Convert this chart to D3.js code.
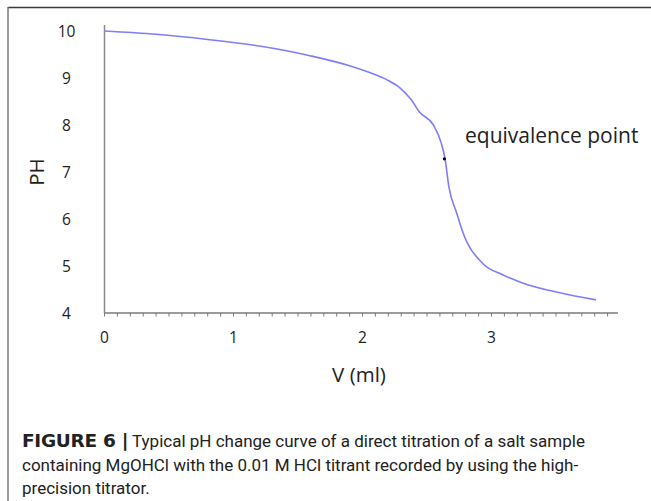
<!DOCTYPE html>
<html>
<head>
<meta charset="utf-8">
<script src="https://cdn.jsdelivr.net/npm/d3@7/dist/d3.min.js"></script>
<style>
  html, body { margin: 0; padding: 0; background: #fff; }
  svg { display: block; }
</style>
</head>
<body>
<svg id="fig" width="651" height="501"></svg>
<script>
// Titration curve: titrant volume (ml) vs measured pH
const volume = [0, 0.4, 0.8, 1.2, 1.6, 1.9, 2.05, 2.19, 2.29, 2.38, 2.44, 2.55, 2.61, 2.64, 2.67, 2.73, 2.78, 2.93, 3.09, 3.24, 3.53, 3.81];
const pH     = [10.0, 9.93, 9.82, 9.68, 9.47, 9.26, 9.12, 8.96, 8.79, 8.53, 8.28, 8.0, 7.62, 7.28, 6.68, 6.13, 5.70, 5.06, 4.81, 4.64, 4.43, 4.28];
const equivalencePoint = { v: 2.635, ph: 7.28 };
const xTicks = [0, 1, 2, 3];
const yTicks = [4, 5, 6, 7, 8, 9, 10];
const captionLines = [
  ["FIGURE 6 |", "Typical pH change curve of a direct titration of a salt sample"],
  ["", "containing MgOHCl with the 0.01 M HCl titrant recorded by using the high-"],
  ["", "precision titrator."]
];

const svg = d3.select("#fig");

// figure frame (top and left rules)
svg.append("line").attr("x1", 8).attr("x2", 651).attr("y1", 7.5).attr("y2", 7.5)
  .attr("stroke", "#3a3a3a").attr("stroke-width", 1.5);
svg.append("line").attr("x1", 8).attr("x2", 8).attr("y1", 7).attr("y2", 501)
  .attr("stroke", "#777").attr("stroke-width", 1.5);

const x = d3.scaleLinear().domain([0, 3]).range([104.5, 491.5]);
const y = d3.scaleLinear().domain([4, 10]).range([313, 31]);

const font = "'Open Sans', 'DejaVu Sans', sans-serif";

// y axis line
svg.append("line").attr("x1", x(0)).attr("x2", x(0)).attr("y1", y(10.13)).attr("y2", y(4))
  .attr("stroke", "#8a8a8a").attr("stroke-width", 1.5);

// x axis with minor ticks every 0.1 ml
svg.append("line").attr("x1", x(0)).attr("x2", x(3.98)).attr("y1", y(4)).attr("y2", y(4))
  .attr("stroke", "#7a7a7a").attr("stroke-width", 1.5);
const minor = d3.range(0, 40).map(i => i / 10);
svg.append("g").selectAll("line").data(minor).join("line")
  .attr("x1", d => x(d)).attr("x2", d => x(d))
  .attr("y1", y(4)).attr("y2", y(4) + 3.5)
  .attr("stroke", "#7a7a7a").attr("stroke-width", 1);

// tick labels
svg.append("g").selectAll("text").data(xTicks).join("text")
  .attr("x", d => x(d)).attr("y", 342.5)
  .attr("text-anchor", "middle")
  .attr("font-family", font).attr("font-size", 15.5).attr("fill", "#222")
  .text(d => d);
svg.append("g").selectAll("text").data(yTicks).join("text")
  .attr("x", 66.5).attr("y", d => y(d) + 5.5)
  .attr("text-anchor", "middle")
  .attr("font-family", font).attr("font-size", 15.5).attr("fill", "#222")
  .text(d => d);

// axis titles
svg.append("text").attr("x", 359).attr("y", 382)
  .attr("text-anchor", "middle")
  .attr("font-family", font).attr("font-size", 20.5).attr("fill", "#222")
  .text("V (ml)");
svg.append("text")
  .attr("transform", "translate(43.5,172) rotate(-90)")
  .attr("text-anchor", "middle")
  .attr("font-family", font).attr("font-size", 20.5).attr("fill", "#222")
  .text("PH");

// titration curve
const line = d3.line().curve(d3.curveMonotoneX).x(d => x(d[0])).y(d => y(d[1]));
svg.append("path")
  .datum(volume.map((v, i) => [v, pH[i]]))
  .attr("d", line)
  .attr("fill", "none").attr("stroke", "#7d7dff").attr("stroke-width", 1.6)
  .attr("stroke-linejoin", "round");

// equivalence point marker and label
svg.append("circle").attr("cx", x(equivalencePoint.v)).attr("cy", y(equivalencePoint.ph))
  .attr("r", 1.6).attr("fill", "#000");
svg.append("text").attr("x", 465).attr("y", 143)
  .attr("font-family", font).attr("font-size", 21).attr("fill", "#222")
  .text("equivalence point");

// caption
const cap = svg.append("g")
  .attr("font-family", "Roboto, 'Liberation Sans', sans-serif")
  .attr("font-size", 17).attr("fill", "#222");
captionLines.forEach((ln, i) => {
  const t = cap.append("text").attr("x", 22).attr("y", 447 + i * 23.5);
  if (ln[0]) {
    t.append("tspan").attr("font-weight", "bold")
      .attr("font-family", "'DejaVu Sans', sans-serif").attr("font-size", 18.5)
      .attr("letter-spacing", -0.3)
      .text(ln[0]);
    t.append("tspan").text(" ");
  }
  t.append("tspan").text(ln[1]);
});
</script>
</body>
</html>
